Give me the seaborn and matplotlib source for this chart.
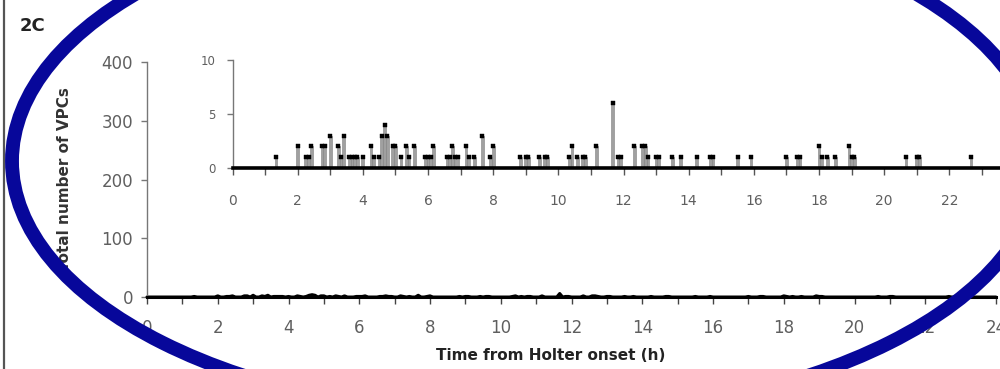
import numpy as np
import pandas as pd
import matplotlib
matplotlib.use("Agg")
import matplotlib.pyplot as plt
import seaborn as sns
from matplotlib.patches import Ellipse
from matplotlib.lines import Line2D
from matplotlib.ticker import MultipleLocator

# ---------------- data ----------------
event_hours = [1.333, 2.0, 2.25, 2.333, 2.417, 2.75, 2.833, 3.0, 3.25, 3.333, 3.417,
               3.583, 3.667, 3.75, 3.833, 4.0, 4.25, 4.333, 4.5, 4.583, 4.667, 4.75,
               4.917, 5.0, 5.167, 5.333, 5.417, 5.583, 5.917, 6.0, 6.083, 6.167,
               6.583, 6.667, 6.75, 6.833, 6.917, 7.167, 7.25, 7.417, 7.667, 7.917, 8.0,
               8.833, 9.0, 9.083, 9.417, 9.583, 9.667, 10.333, 10.417, 10.583, 10.75,
               10.833, 11.167, 11.667, 11.833, 11.917, 12.333, 12.583, 12.667, 12.75,
               13.0, 13.083, 13.5, 13.75, 14.25, 14.667, 14.75, 15.5, 15.917, 17.0,
               17.333, 17.417, 18.0, 18.083, 18.25, 18.5, 18.917, 19.0, 19.083,
               20.667, 21.0, 21.083, 22.667]
event_counts = [1, 2, 1, 1, 2, 2, 2, 3, 2, 1, 3,
                1, 1, 1, 1, 1, 2, 1, 1, 3, 4, 3,
                2, 2, 1, 2, 1, 2, 1, 1, 1, 2,
                1, 1, 2, 1, 1, 2, 1, 1, 3, 1, 2,
                1, 1, 1, 1, 1, 1, 1, 2, 1, 1,
                1, 2, 6, 1, 1, 2, 2, 2, 1,
                1, 1, 1, 1, 1, 1, 1, 1, 1, 1,
                1, 1, 2, 1, 1, 1, 2, 1, 1,
                1, 1, 1, 1]

main_yticks = [0, 100, 200, 300, 400]
main_xticks = list(range(0, 25, 2))
inset_yticks = [0, 5, 10]
inset_xticks = list(range(0, 25, 2))
panel_label = "2C"
x_label = "Time from Holter onset (h)"
y_label = "Total number of VPCs"

# 5-minute bins over the 24 h recording
bin_h = 1 / 12
grid = np.arange(0, 24 + 1e-9, bin_h)
counts = np.zeros(len(grid))
counts[np.rint(np.array(event_hours) / bin_h).astype(int)] = event_counts
df = pd.DataFrame({"hour": grid, "vpcs": counts})
events = pd.DataFrame({"hour": event_hours, "vpcs": event_counts})

# ---------------- styling ----------------
sns.set_theme(style="ticks")
plt.rcParams["font.family"] = ["DejaVu Sans"]
tick_grey = "#5f5f5f"

fig = plt.figure(figsize=(10, 3.69), dpi=100)
fig.patch.set_facecolor("white")

# ---------------- main axes ----------------
ax = fig.add_axes([0.147, 0.195, 0.849, 0.637])
sns.lineplot(data=df, x="hour", y="vpcs", ax=ax, color="black", lw=2.2, clip_on=False)
ax.set_xlim(0, 24)
ax.set_ylim(0, 400)
ax.set_yticks(main_yticks)
ax.set_xticks(main_xticks)
ax.xaxis.set_minor_locator(MultipleLocator(1))
sns.despine(ax=ax)
ax.spines["left"].set_color("#777777")
ax.spines["left"].set_linewidth(1.0)
ax.spines["bottom"].set_color("black")
ax.spines["bottom"].set_linewidth(2.2)
ax.tick_params(axis="y", direction="out", length=4, width=1, color="#777777",
               labelsize=12, labelcolor=tick_grey, pad=6)
ax.tick_params(axis="x", which="both", direction="out", length=5, width=1, color="#444444",
               labelsize=12, labelcolor=tick_grey, pad=11)
ax.set_xlabel(x_label, fontsize=11, fontweight="bold", color="#222222")
ax.set_ylabel(y_label, fontsize=11, fontweight="bold", color="#333333")
ax.xaxis.set_label_coords(0.475, -0.215)
ax.yaxis.set_label_coords(-0.088, 0.5)
ax.set_facecolor("white")

# ---------------- inset axes ----------------
ax2 = fig.add_axes([0.2325, 0.5447, 0.782, 0.2927])
ax2.bar(events["hour"], events["vpcs"], width=bin_h, color="#a0a0a0",
        edgecolor="#808080", linewidth=0.4, align="center", zorder=2)
sns.scatterplot(data=events, x="hour", y="vpcs", ax=ax2, color="black", marker="s",
                s=9, edgecolor="black", linewidth=0.3, zorder=3, legend=False)
ax2.set_xlim(0, 24)
ax2.set_ylim(0, 10)
ax2.set_yticks(inset_yticks)
ax2.set_xticks(inset_xticks)
ax2.xaxis.set_minor_locator(MultipleLocator(1))
sns.despine(ax=ax2)
ax2.spines["left"].set_color("#777777")
ax2.spines["left"].set_linewidth(1.0)
ax2.spines["bottom"].set_color("black")
ax2.spines["bottom"].set_linewidth(2.6)
ax2.tick_params(axis="y", direction="out", length=4, width=1, color="#777777",
                labelsize=8.5, labelcolor=tick_grey, pad=8)
ax2.tick_params(axis="x", which="both", direction="out", length=5, width=1, color="#555555",
                labelsize=10, labelcolor=tick_grey, pad=14)
ax2.set_xlabel("")
ax2.set_ylabel("")
ax2.patch.set_alpha(0)

# ---------------- panel decorations ----------------
fig.text(0.02, 0.93, panel_label, fontsize=13, fontweight="bold", color="#222222",
         ha="left", va="center")
fig.add_artist(Line2D([0.004, 0.004], [0, 1], transform=fig.transFigure,
                      color="#555555", lw=1.6, zorder=5))
fig.add_artist(Ellipse((526 / 1000, 1 - 161 / 369), 2 * 514 / 1000, 2 * 257 / 369,
                       transform=fig.transFigure, fill=False, edgecolor="#07079a",
                       lw=10, zorder=10))

fig.savefig("out.png", dpi=100)
